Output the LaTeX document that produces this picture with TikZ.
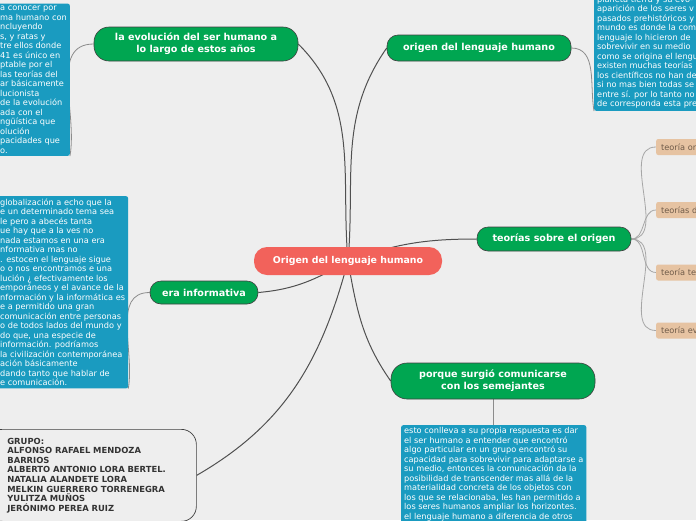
\documentclass[tikz,border=0pt]{standalone}
\usepackage{fontspec}
\setmainfont{DejaVu Sans}
\usetikzlibrary{positioning}
\definecolor{paper}{HTML}{EEEEEE}
\definecolor{topicgreen}{HTML}{00A651}
\definecolor{rootred}{HTML}{F2625B}
\definecolor{noteblue}{HTML}{1A9BC0}
\definecolor{tanfill}{HTML}{E6C3A2}
\definecolor{tantext}{HTML}{6E5A48}
\definecolor{linegray}{HTML}{505050}
\pgfdeclarelayer{bg}
\pgfsetlayers{bg,main}

\begin{document}
\begin{tikzpicture}[x=1pt, y=1pt, yscale=-1, font=\fontsize{8.2}{9.5}\selectfont,
  topic/.style={draw=black!75, line width=0.6pt, fill=topicgreen, text=white, rounded corners=11pt, align=center, inner sep=2pt, font=\fontsize{9.6}{12.3}\selectfont\bfseries},
  root/.style={fill=rootred, text=white, rounded corners=13pt, minimum width=188pt, minimum height=28pt, font=\fontsize{9.4}{11}\selectfont\bfseries},
  note/.style={fill=noteblue, text=white, rounded corners=2pt, align=left, inner xsep=3pt, inner ysep=2.5pt},
  sub/.style={fill=tanfill, text=tantext, rounded corners=2pt, anchor=west, minimum height=16pt, text width=45pt, align=left, inner xsep=5pt, font=\fontsize{8.2}{9}\selectfont},
  crew/.style={draw=black!75, line width=0.7pt, fill=paper, rounded corners=15pt, align=left, text width=169pt, inner xsep=20pt, inner ysep=6pt, minimum height=92pt, text=black!80, font=\fontsize{8.4}{9.6}\selectfont\bfseries},
  link/.style={draw=linegray, line width=1pt},
  twig/.style={draw=black!45, line width=0.8pt}]
\useasboundingbox (0,0) rectangle (696,520);
\begin{pgfonlayer}{bg}
\fill[paper] (0,0) rectangle (696,520);
\end{pgfonlayer}
\begin{scope}
\clip (0,0) rectangle (696,520);
\node[root] (root) at (348,261) {Origen del lenguaje humano};
\node[topic, minimum width=204pt, minimum height=34pt, rounded corners=15pt] (evo) at (196,44) {la evolución del ser humano a\\lo largo de estos años};
\node[topic, minimum width=184pt, minimum height=26pt] (orig) at (479,48) {origen del lenguaje humano};
\node[topic, minimum width=154pt, minimum height=24pt] (teor) at (554,239) {teorías sobre el origen};
\node[topic, minimum width=108pt, minimum height=23pt] (era) at (204,292.5) {era informativa};
\node[topic, minimum width=204pt, minimum height=36pt, rounded corners=16pt] (porq) at (493,381) {porque surgió comunicarse\\con los semejantes};
\node[note, anchor=south west] (evonote) at (-3,156) {a conocer por\\ma humano con\\ncluyendo\\s, y ratas y\\tre ellos donde\\41 es único en\\ptable por el\\las teorías del\\ar básicamente\\lucionista\\de la evolución\\ada con el\\ngüística que\\olución\\pacidades que\\o.};
\node[note, anchor=south west] (orignote) at (594,111) {planeta tierra y su evo-\\aparición de los seres v\\pasados prehistóricos y\\mundo es donde la com\\lenguaje lo hicieron de\\sobrevivir en su medio\\como se origina el lengu\\existen muchas teorías\\los científicos no han de\\si no mas bien todas se\\entre sí. por lo tanto no\\de corresponda esta pre};
\node[note, anchor=north west] (eranote) at (-3,196) {globalización a echo que la\\e un determinado tema sea\\le pero a abecés tanta\\ue hay que a la ves no\\nada estamos en una era\\nformativa mas no\\. estocen el lenguaje sigue\\o o nos encontramos e una\\lución ¿ efectivamente los\\emporáneos y el avance de la\\nformación y la informática es\\e a permitido una gran\\comunicación entre personas\\o de todos lados del mundo y\\do que, una especie de\\información. podríamos\\la civilización contemporánea\\ación básicamente\\dando tanto que hablar de\\e comunicación.};
\node[note, anchor=north west] (porqnote) at (401,425) {esto conlleva a su propia respuesta es dar\\el ser humano a entender que encontró\\algo particular en un grupo encontró su\\capacidad para sobrevivir para adaptarse a\\su medio, entonces la comunicación da la\\posibilidad de transcender mas allá de la\\materialidad concreta de los objetos con\\los que se relacionaba, les han permitido a\\los seres humanos ampliar los horizontes.\\el lenguaje humano a diferencia de otros};
\node[sub] (t1) at (656,147) {teoría or};
\node[sub] (t2) at (656,210) {teorías d};
\node[sub] (t3) at (656,272.5) {teoría te};
\node[sub] (t4) at (656,330.5) {teoría ev};
\node[crew, anchor=north west] (grp) at (-13,429) {GRUPO:\\ALFONSO RAFAEL MENDOZA\\BARRIOS\\ALBERTO ANTONIO LORA BERTEL.\\NATALIA ALANDETE LORA\\MELKIN GUERRERO TORRENEGRA\\YULITZA MUÑOS\\JERÓNIMO PEREA RUIZ};
\end{scope}
\begin{pgfonlayer}{bg}
\draw[link] (root.center) to[out=-95, in=45] (evo.east);
\draw[link] (root.center) to[out=-85, in=125] (orig.west);
\draw[link] (root.center) to[out=-20, in=180] (teor.west);
\draw[link] (root.center) to[out=150, in=-5] (era.east);
\draw[link] (root.center) to[out=80, in=-125] (porq.west);
\draw[link] (root.center) to[out=105, in=-30] (grp.east);
\draw[twig] (evo.west) to[out=180, in=-80] (evonote.south east);
\draw[twig] (orig.east) to[out=0, in=-100] (orignote.south west);
\draw[twig] (era.west) to[out=180, in=-80] (eranote.south east);
\draw[twig] (porq.south) -- (porqnote.north -| porq.south);
\foreach \t in {t1,t2,t3,t4}
  \draw[twig, black!35] (teor.east) to[out=0, in=180] (\t.west);
\end{pgfonlayer}
\end{tikzpicture}
\end{document}
